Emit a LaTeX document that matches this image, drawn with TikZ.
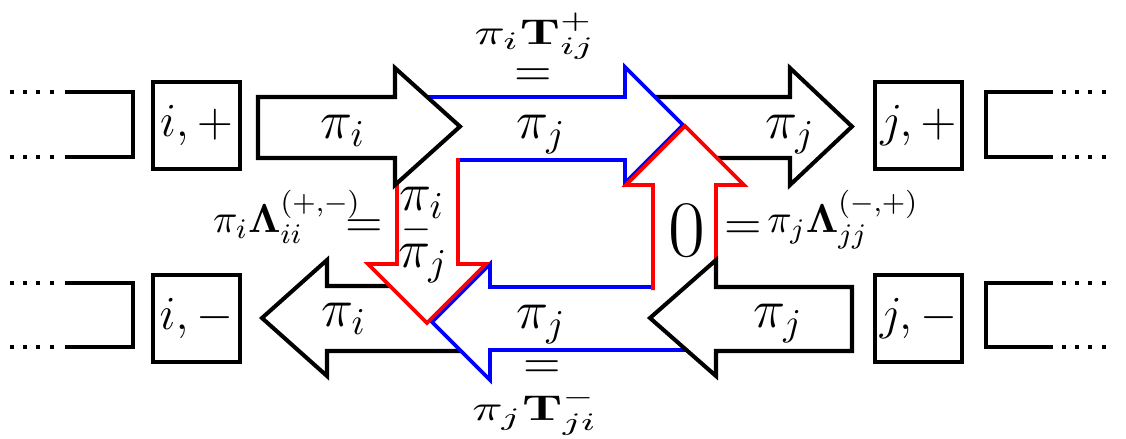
\documentclass[tikz,border=0pt]{standalone}
\usepackage{fix-cm}
\usepackage{amsmath,amssymb}
\usepackage{graphicx}
\usepackage{tikz}
\definecolor{flowblue}{RGB}{0,0,255}
\definecolor{flowred}{RGB}{255,0,0}
\newcommand{\fs}[1]{\fontsize{#1}{#1}\selectfont}

\begin{document}
\begin{tikzpicture}[x=0.01cm,y=-0.01cm,
    blk/.style={draw=black,line width=1.15pt,fill=white},
    blu/.style={draw=flowblue,line width=1.05pt,fill=white},
    rd/.style={draw=flowred,line width=1.05pt,fill=white},
    statebox/.style={draw,line width=1.15pt,minimum width=0.87cm,minimum height=0.87cm,inner sep=0pt,font=\fs{13.5}},
    dots/.style={line width=1.15pt,dash pattern=on 1.15pt off 2.6pt},
    flow/.style={inner sep=0pt,anchor=base,font=\fs{15.4}},
    eqs/.style={inner sep=0pt,anchor=base,font=\fs{14}},
    side/.style={inner sep=0pt,anchor=base,font=\fs{11.5}}]
  \useasboundingbox (0,0) rectangle (1126,438);
  \draw[blk] (640,97) -- (790,97) -- (790,68) -- (852,126.5) -- (790,185) -- (790,158) -- (640,158) -- cycle;
  \draw[blk] (262,318) -- (327,260) -- (327,286) -- (470,286) -- (470,351) -- (327,351) -- (327,376) -- cycle;
  \draw[blu] (425,97) -- (625,97) -- (625,67) -- (683,125) -- (625,183) -- (625,160) -- (458,160);
  \draw[blu] (690,287) -- (490,287) -- (490,264) -- (432,322) -- (490,380) -- (490,350) -- (690,350);
  \draw[rd] (653,290) -- (653,185) -- (626,185) -- (685,126) -- (744,185) -- (716,185) -- (716,290);
  \draw[rd] (458,158) -- (458,264) -- (486,264) -- (427,323) -- (368,264) -- (397,264) -- (397,158);
  \draw[blk] (258,97) -- (395,97) -- (395,68) -- (460,126.5) -- (395,185) -- (395,158) -- (258,158) -- cycle;
  \draw[blk] (650,318) -- (716,260) -- (716,287) -- (852,287) -- (852,351) -- (716,351) -- (716,376) -- cycle;
  \node[statebox] (ip) at (196.5,125.5) {$i,+$};
  \node[statebox] (im) at (196.5,318.5) {$i,-$};
  \node[statebox] (jp) at (918.5,125.5) {$j,+$};
  \node[statebox] (jm) at (918.5,318.5) {$j,-$};
  \foreach \ya/\yb in {92/157,283/347} {
    \draw[line width=1.15pt] (65,\ya) -| (133,\yb) -- (65,\yb);
    \draw[line width=1.15pt] (1053,\ya) -| (986,\yb) -- (1053,\yb);
    \draw[dots] (10,\ya) -- (56,\ya) (10,\yb) -- (56,\yb);
    \draw[dots] (1062,\ya) -- (1108,\ya) (1062,\yb) -- (1108,\yb);
  }
  \node[flow] (fTL) at (343,138) {$\pi_i$};
  \node[flow] (fTM) at (541,138) {$\pi_j$};
  \node[flow] (fTR) at (790,138) {$\pi_j$};
  \node[flow] (fBL) at (344,326) {$\pi_i$};
  \node[flow] (fBM) at (541,328) {$\pi_j$};
  \node[flow] (fBR) at (778,327) {$\pi_j$};
  \node[flow] (dTop) at (422,210) {$\pi_i$};
  \node[inner sep=0pt,font=\fs{11}] (dMid) at (417,230) {$-$};
  \node[flow] (dBot) at (423,267) {$\pi_j$};
  \node[inner sep=0pt,anchor=base,font=\fs{22.8}] (zero) at (687,256) {$0$};
  \node[eqs] (eqT) at (533,86) {$=$};
  \node[eqs] (eqB) at (542,378) {$=$};
  \node[eqs] (eqL) at (364,237) {$=$};
  \node[eqs] (eqR) at (743,239) {$=$};
  \node[inner sep=0pt,anchor=base,font=\fs{10.2}] (tTop) at (535,44) {\scalebox{1.4}[1]{$\pi_i\mathbf{T}^+_{ij}$}};
  \node[inner sep=0pt,anchor=base,font=\fs{10.2}] (tBot) at (535,420) {\scalebox{1.4}[1]{$\pi_j\mathbf{T}^-_{ji}$}};
  \node[side] (lamL) at (287,232) {$\pi_i\mathbf{\Lambda}^{(+,-)}_{ii}$};
  \node[side] (lamR) at (843,232) {$\pi_j\mathbf{\Lambda}^{(-,+)}_{jj}$};
\end{tikzpicture}
\end{document}
